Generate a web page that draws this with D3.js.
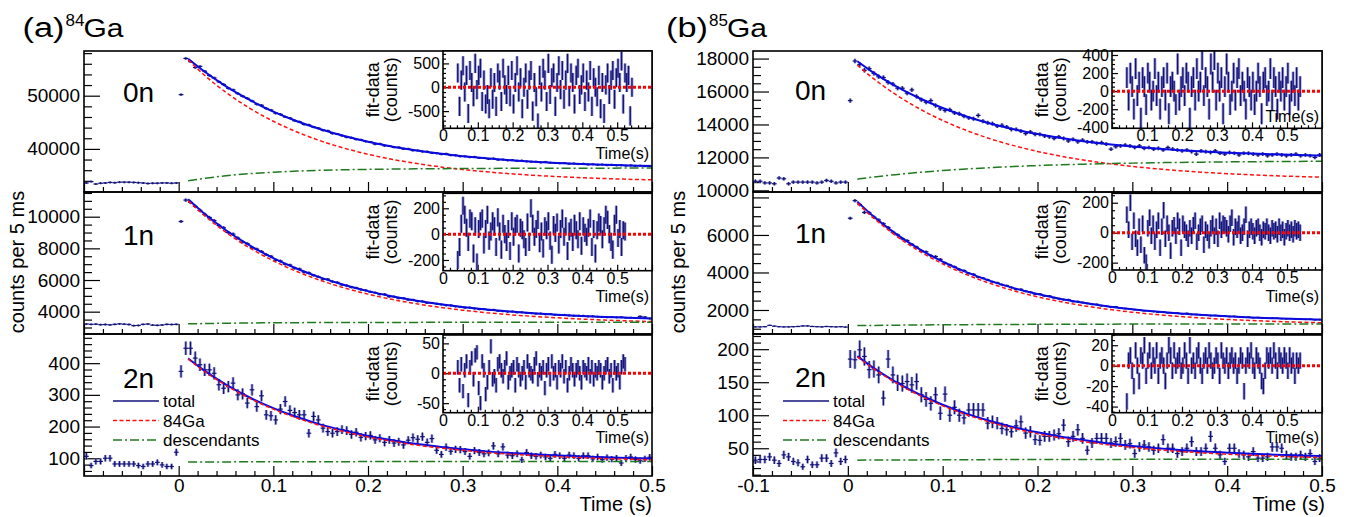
<!DOCTYPE html>
<html>
<head>
<meta charset="utf-8">
<title>84Ga / 85Ga decay curves</title>
<script src="https://cdn.jsdelivr.net/npm/d3@7/dist/d3.min.js"></script>
<style>
  html, body { margin: 0; padding: 0; background: #ffffff; }
  svg { display: block; }
  text { font-family: "Liberation Sans", Arial, Helvetica, sans-serif; fill: #000; }
</style>
</head>
<body>
<svg id="chart" width="1357" height="517" viewBox="0 0 1357 517"></svg>
<script>
// ---------- binning ----------
const binWidth = 0.005;        // 5 ms bins
const bgFirstBin = -0.0975;    // first bin centre before implantation
const decayFirstBin = 0.0025;  // first bin centre after implantation
const residFirstBin = 0.0425;  // first bin centre in the residual panels

// ---------- tick labels ----------
const timeLabelsA = [0, 0.1, 0.2, 0.3, 0.4, 0.5];
const timeLabelsB = [-0.1, 0, 0.1, 0.2, 0.3, 0.4, 0.5];
const residTimeLabels = [0, 0.1, 0.2, 0.3, 0.4, 0.5];
const residTimeLabelsNoZero = [0.1, 0.2, 0.3, 0.4, 0.5];

const ga84YLabels0n = [40000, 50000];
const ga84YLabels1n = [4000, 6000, 8000, 10000];
const ga84YLabels2n = [100, 200, 300, 400];
const ga85YLabels0n = [10000, 12000, 14000, 16000, 18000];
const ga85YLabels1n = [2000, 4000, 6000];
const ga85YLabels2n = [50, 100, 150, 200];

const ga84ResidLabels0n = [-500, 0, 500];
const ga84ResidLabels1n = [-200, 0, 200];
const ga84ResidLabels2n = [-50, 0, 50];
const ga85ResidLabels0n = [-400, -200, 0, 200, 400];
const ga85ResidLabels1n = [-200, 0, 200];
const ga85ResidLabels2n = [-40, -20, 0, 20];

// ---------- fit curves (sampled) ----------
const fitTimes = [0.01, 0.025, 0.05, 0.075, 0.1, 0.125, 0.15, 0.175, 0.2, 0.225, 0.25,
                  0.275, 0.3, 0.325, 0.35, 0.375, 0.4, 0.425, 0.45, 0.475, 0.5];

const ga84Total0n = [56933, 54815, 51765, 49193, 47013, 45203, 43685, 42409, 41345, 40458, 39737,
                     39129, 38636, 38222, 37883, 37599, 37367, 37173, 37015, 36881, 36771];
const ga84Parent0n = [56733, 54215, 50615, 47643, 45193, 43173, 41505, 40129, 38995, 38058, 37287,
                      36649, 36126, 35692, 35333, 35039, 34797, 34595, 34430, 34293, 34181];
const ga84Desc0n = [34000, 34400, 34950, 35350, 35620, 35830, 35980, 36080, 36150, 36200, 36250,
                    36280, 36310, 36330, 36350, 36360, 36370, 36378, 36385, 36388, 36390];

const ga84Total1n = [11100, 10301, 9147, 8185, 7382, 6711, 6153, 5686, 5298, 4973, 4704,
                     4480, 4293, 4136, 4007, 3898, 3809, 3734, 3671, 3619, 3576];
const ga84Parent1n = [11000, 10184, 9007, 8028, 7214, 6534, 5970, 5499, 5108, 4781, 4510,
                      4284, 4096, 3939, 3809, 3700, 3610, 3535, 3471, 3419, 3376];
const ga84Desc1n = [3230, 3247, 3270, 3287, 3298, 3307, 3313, 3317, 3320, 3322, 3324,
                    3326, 3327, 3327, 3328, 3328, 3329, 3329, 3330, 3330, 3330];

const ga84Total2n = [415, 381.2, 332.5, 291.7, 258, 230.1, 206.2, 187.3, 170.4, 157.5, 145.6,
                     136.6, 128.7, 121.7, 116.8, 112.8, 108.9, 105.9, 103, 101, 99];
const ga84Parent2n = [413, 379, 330, 289, 255, 227, 203, 184, 167, 154, 142,
                      133, 125, 118, 113, 109, 105, 102, 99, 97, 95];
const ga84Desc2n = [88, 88.2, 88.5, 88.7, 89, 89.1, 89.2, 89.3, 89.4, 89.5, 89.6,
                    89.6, 89.7, 89.7, 89.8, 89.8, 89.9, 89.9, 90, 90, 90];

const ga85Total0n = [17834, 17223, 16342, 15608, 14997, 14488, 14064, 13712, 13417, 13172, 12967,
                     12798, 12656, 12539, 12439, 12358, 12290, 12233, 12186, 12146, 12114];
const ga85Parent0n = [17603, 16880, 15838, 14968, 14243, 13638, 13134, 12714, 12363, 12070, 11826,
                      11623, 11453, 11312, 11193, 11095, 11013, 10944, 10887, 10839, 10800];
const ga85Desc0n = [10681, 10793, 10954, 11090, 11204, 11300, 11380, 11448, 11504, 11552, 11591,
                    11625, 11653, 11677, 11696, 11713, 11727, 11739, 11749, 11757, 11764];

const ga85Total1n = [7777, 7081, 6086, 5261, 4580, 4017, 3552, 3167, 2848, 2585, 2369,
                     2189, 2040, 1917, 1814, 1731, 1661, 1604, 1557, 1518, 1485];
const ga85Parent1n = [7700, 6995, 5986, 5150, 4460, 3889, 3417, 3026, 2703, 2436, 2216,
                      2033, 1882, 1757, 1653, 1568, 1497, 1439, 1391, 1351, 1318];
const ga85Desc1n = [1167, 1176, 1190, 1201, 1210, 1218, 1225, 1231, 1235, 1239, 1243,
                    1246, 1248, 1250, 1251, 1253, 1254, 1255, 1256, 1257, 1257];

const ga85Total2n = [189.5, 173.7, 151.0, 131.8, 115.9, 102.5, 91.3, 81.9, 74.1, 67.4, 62.0,
                     57.3, 53.5, 50.2, 47.4, 45.1, 43.3, 41.7, 40.3, 39.2, 38.2];
const ga85Parent2n = [188.5, 172.6, 149.7, 130.4, 114.3, 100.8, 89.5, 80.0, 72.1, 65.4, 59.9,
                      55.2, 51.3, 48.0, 45.2, 42.9, 41.0, 39.4, 38.0, 36.9, 35.9];
const ga85Desc2n = [32.0, 32.1, 32.3, 32.4, 32.6, 32.7, 32.8, 32.9, 33.0, 33.0, 33.1,
                    33.1, 33.2, 33.2, 33.2, 33.2, 33.3, 33.3, 33.3, 33.3, 33.3];

// ---------- counts per 5 ms bin ----------
const ga84Pre0n = [33600, 33850, 33400, 33550, 33600, 33700, 33650, 33750, 33750, 33750,
                   33700, 33650, 33600, 33500, 33550, 33550, 33600, 33600, 33550, 33600];
const ga84Post0n = [50200, 57000, 56400, 55300, 55500, 54600, 53800, 53350, 52600, 52100,
  51400, 51100, 50400, 49900, 49500, 49000, 48400, 48200, 47600, 47300,
  46700, 46500, 46000, 45800, 45300, 45100, 44600, 44500, 44100, 43900,
  43500, 43400, 42900, 42800, 42500, 42200, 42100, 41800, 41700, 41400,
  41300, 40900, 40950, 40600, 40550, 40300, 40300, 40000, 40000, 39700,
  39700, 39500, 39500, 39250, 39200, 39000, 39100, 38800, 38800, 38600,
  38600, 38450, 38500, 38300, 38300, 38100, 38200, 37950, 38000, 37850,
  37900, 37750, 37800, 37650, 37600, 37600, 37450, 37550, 37400, 37350,
  37300, 37350, 37200, 37250, 37150, 37200, 37050, 37100, 37000, 37050,
  36950, 37000, 36900, 36950, 36850, 36900, 36800, 36850, 36750, 36800];

const ga84Pre1n = [3220, 3200, 3210, 3180, 3190, 3170, 3200, 3230, 3210, 3190,
                   3120, 3130, 3200, 3220, 3150, 3140, 3160, 3200, 3190, 3200];
const ga84Post1n = [9700, 11050, 10900, 10650, 10400, 10150, 9950, 9750, 9450, 9300,
  9000, 8900, 8650, 8400, 8300, 8050, 7950, 7800, 7600, 7500,
  7250, 7200, 7000, 6950, 6750, 6700, 6500, 6450, 6300, 6200,
  6050, 6050, 5900, 5850, 5700, 5650, 5550, 5500, 5400, 5350,
  5250, 5200, 5100, 5100, 4950, 4950, 4850, 4850, 4750, 4750,
  4650, 4650, 4550, 4550, 4500, 4450, 4400, 4400, 4330, 4300,
  4250, 4260, 4200, 4150, 4170, 4100, 4120, 4050, 4030, 4000,
  4010, 3950, 3960, 3920, 3900, 3870, 3880, 3830, 3850, 3800,
  3790, 3800, 3760, 3740, 3750, 3740, 3700, 3710, 3680, 3670,
  3650, 3660, 3640, 3650, 3610, 3620, 3600, 3700, 3660, 3570];

const ga84Pre2n = [106, 77, 90, 90, 100, 100, 82, 82, 82, 82,
                   82, 77, 74, 82, 82, 87, 79, 74, 74, 119];
const ga84Post2n = [374, 447, 447, 416, 395, 379, 379, 368, 332, 321,
  326, 337, 300, 303, 274, 316, 263, 297, 237, 234,
  221, 255, 279, 251, 244, 237, 237, 179, 232, 221,
  195, 184, 179, 184, 190, 187, 175, 182, 166, 170,
  172, 158, 163, 150, 158, 148, 152, 142, 157, 165,
  160, 168, 150, 162, 125, 112, 135, 122, 128, 127,
  121, 106, 124, 118, 114, 117, 139, 114, 136, 110,
  108, 114, 95, 118, 108, 106, 110, 104, 100, 112,
  108, 100, 110, 108, 100, 108, 108, 98, 104, 96,
  102, 97, 100, 85, 100, 104, 96, 92, 98, 103];

const ga85Pre0n = [10550, 10550, 10450, 10450, 10400, 10750, 10700, 10400, 10500, 10500,
                   10500, 10500, 10500, 10450, 10500, 10600, 10550, 10450, 10500, 10500];
const ga85Post0n = [15450, 17850, 17640, 17290, 17390, 17100, 16900, 16850, 16550, 16450,
  16200, 16200, 15900, 16100, 15700, 15500, 15350, 15450, 15150, 14950,
  14850, 14900, 14700, 14650, 14500, 14400, 14350, 14550, 14200, 14100,
  14050, 13900, 13950, 13850, 13700, 13700, 13600, 13450, 13550, 13400,
  13400, 13300, 13250, 13150, 13250, 13150, 13000, 13100, 12950, 13050,
  12950, 12950, 12850, 12900, 12800, 12500, 12650, 12700, 12750, 12700,
  12600, 12700, 12550, 12600, 12500, 12550, 12450, 12600, 12500, 12450,
  12400, 12450, 12350, 12200, 12400, 12350, 12300, 12400, 12250, 12200,
  12300, 12250, 12150, 12250, 12250, 12200, 12150, 12200, 12100, 12150,
  12200, 12150, 12100, 12150, 12200, 12100, 12150, 12100, 12000, 12150];

const ga85Pre1n = [1100, 1100, 1110, 1180, 1140, 1110, 1100, 1100, 1110, 1120,
                   1150, 1150, 1120, 1110, 1100, 1120, 1110, 1100, 1110, 1090];
const ga85Post1n = [6890, 7830, 7620, 7200, 7180, 6950, 6800, 6600, 6400, 6150,
  6000, 5800, 5700, 5500, 5350, 5150, 5100, 4900, 4850, 4700,
  4500, 4400, 4300, 4150, 4100, 3950, 3900, 3750, 3700, 3600,
  3500, 3450, 3350, 3300, 3200, 3100, 3100, 3000, 2950, 2850,
  2850, 2750, 2750, 2650, 2600, 2550, 2550, 2450, 2450, 2400,
  2350, 2300, 2300, 2230, 2200, 2150, 2170, 2100, 2080, 2050,
  2020, 2000, 1960, 1960, 1920, 1880, 1900, 1850, 1830, 1840,
  1800, 1820, 1760, 1760, 1740, 1720, 1700, 1710, 1670, 1680,
  1650, 1660, 1620, 1610, 1620, 1590, 1600, 1570, 1560, 1570,
  1560, 1540, 1530, 1540, 1510, 1510, 1500, 1510, 1480, 1490];

const ga85Pre2n = [32, 33, 33, 37, 32, 27, 40, 37, 30, 28,
                   22, 33, 25, 25, 35, 35, 27, 43, 30, 33];
const ga85Post2n = [185, 184, 199, 189, 169, 170, 161, 126, 185, 161,
  149, 148, 151, 146, 151, 131, 124, 118, 131, 103,
  132, 100, 112, 100, 96, 108, 108, 108, 108, 88,
  90, 88, 80, 78, 75, 84, 90, 73, 75, 63,
  62, 68, 68, 70, 72, 85, 60, 68, 78, 65,
  47, 58, 65, 65, 65, 58, 60, 65, 55, 57,
  42, 52, 55, 52, 47, 50, 63, 50, 50, 42,
  45, 50, 60, 45, 45, 50, 68, 50, 40, 30,
  50, 50, 42, 40, 37, 45, 35, 35, 37, 52,
  52, 50, 40, 37, 37, 40, 37, 42, 30, 35];

// ---------- fit - data residuals ----------
const ga84Resid0n = [300, -400, 150, 450, -100, 250, -550, 350, 100, -200, 500, -50, 250, 400, -300,
  150, -350, -150, -450, 200, -250, 100, -400, 300, 150, -300, 400, 50, -150, 250, -200, 350, -350,
  100, 450, -100, 200, -450, 0, 300, -250, 150, 350, -500, 100, -200, -750, 250, -100, 400, 150,
  -300, 500, -150, 200, 300, -400, 100, 450, -50, 350, -250, 150, 500, -200, 300, 100, -350, 250,
  400, -150, 50, 300, -300, 150, -100, 350, -400, 200, 0, -200, 250, -450, 100, -550, 50, 300,
  -150, 150, 350, -250, 200, 400, 100, 550, -350, 300, 100, 250, -600, 0];
const ga84ResidErr0n = 200;

const ga84Resid1n = [-200, -100, 80, 220, 150, 50, -60, 120, 100, -150, 60, -220, 40, 100, 120,
  -80, 40, 150, -50, 20, 100, 60, -100, 130, 20, -120, 80, 0, -60, 40, -130, 100, -20, 60, 80,
  -150, 50, 30, -40, -100, 90, -60, 200, 80, -20, 40, 110, -70, 20, -110, 60, 30, 100, -50, -160,
  70, 10, 90, -80, 40, 120, -20, 60, -130, 20, 50, -60, 80, 30, -40, 100, -90, 60, 10, -20, 50,
  120, -100, 40, -150, 30, 90, 70, -40, 60, 150, 110, 0, -60, -120, 80, 150, -30, 40, -100, 30, 20];
const ga84ResidErr1n = 70;

const ga84Resid2n = [10, -20, 15, -30, 5, 20, -45, 10, 25, -10, 30, 35, -25, -50, 20, 5, -35, -15,
  10, 45, -10, -5, -20, 15, 20, 5, -5, 10, 25, -15, 0, 5, 10, -20, 15, 5, -10, 0, 10, -15, 20, 5,
  0, -5, 15, 25, -10, 5, 0, 10, -25, 5, 15, -10, 20, 0, 5, -15, 10, 5, 20, -5, 10, -20, 0, 15, 5,
  -10, 5, 10, 0, -15, 10, 5, 0, 15, -5, 10, -10, 5, 0, 10, 5, -15, 0, 10, 15, -5, 5, -20, 10, 0,
  5, -15, 10, 20, 15];
const ga84ResidErr2n = 12;

const ga85Resid0n = [150, -100, 200, 50, -200, 250, -50, 100, -300, 150, 50, -150, 200, 100, -100,
  0, 250, -50, 100, -200, 50, 150, -100, 200, -250, 50, 100, 0, -150, 300, -100, 50, 150, -50, 200,
  100, -300, 50, 150, -100, 250, 0, 100, 350, -50, 150, 50, -200, 300, 100, 350, -100, 200, 0, 150,
  -250, 50, 300, 100, -150, 0, 200, -100, 150, 250, -50, 100, 0, -200, 150, 50, -100, 100, -150, 0,
  200, 50, -250, 100, 150, -50, 0, 250, -100, 150, 50, -200, 100, 0, 150, -100, 50, 200, -150, 0,
  100, -50, 150, -100, 50];
const ga85ResidErr0n = 115;

const ga85Resid1n = [120, 20, 200, -60, 80, -40, -100, 40, -80, 60, -150, -200, 30, 100, -20, 60,
  -60, 20, 80, -100, 40, 150, -40, 60, 0, -120, 30, 50, -20, 80, 40, -100, 60, 20, 0, -40, 30, -20,
  50, 80, -60, 0, 40, 60, -80, 20, 0, -50, 30, 60, -20, 40, -40, 80, 20, 60, 50, 30, -10, 60, 100,
  -30, 40, 20, 60, -20, 0, 40, 120, -40, 20, 40, 10, -20, 30, 40, 0, -30, 20, 10, 40, 0, -20, 30,
  10, 20, -10, 40, 0, 20, -30, 10, 30, 0, 20, -10, 30, 10, 20, 0];
const ga85ResidErr1n = 55;

const ga85Resid2n = [-35, 5, 10, -5, -20, 15, 0, -15, 10, 5, 20, -10, 5, 15, -5, 10, 0, 15, -10,
  5, 10, 0, -15, 5, 20, 10, -5, 15, 0, 5, 10, -5, 0, 15, 5, -10, 20, 0, 5, -5, 10, 15, 0, -10, 5,
  10, 0, 15, 5, -5, 0, 10, 5, -10, 15, 5, 0, 10, -5, 5, 10, 0, 5, -10, 0, 10, 5, -25, 0, 10, 5,
  15, 0, -5, 10, 5, 0, -15, -20, -5, 10, 5, 10, 0, 15, 5, -5, 10, 5, 0, 10, 5, -5, 10, 0, 5, -10,
  5, 0, 5];
const ga85ResidErr2n = 8;

// ---------- styling ----------
const NAVY = "#12127a";
const HALO = "#8686c2";
const TOTAL_COLOR = "#0a0ae0";
const PARENT_COLOR = "#ff1010";
const DESC_COLOR = "#1f7a1f";

const svg = d3.select("#chart");
const timeDomain = [-0.1, 0.5];
const residTimeDomain = [0, 0.6];

function stepValues(domain, step) {
  const lo = Math.ceil(domain[0] / step - 1e-6);
  const hi = Math.floor(domain[1] / step + 1e-6);
  return d3.range(lo, hi + 1).map(i => +(i * step).toFixed(6));
}

function styleAxis(sel, fontSize) {
  sel.select(".domain").remove();
  sel.selectAll(".tick line").attr("stroke", "#000").attr("stroke-width", 1.2);
  sel.selectAll(".tick text")
    .attr("font-family", '"Liberation Sans", Arial, Helvetica, sans-serif')
    .attr("font-size", fontSize)
    .attr("fill", "#000");
  sel.attr("font-size", null).attr("font-family", null);
}

let clipCount = 0;
function clipRect(left, top, right, bottom) {
  const id = "clip" + (clipCount++);
  svg.append("clipPath").attr("id", id).append("rect")
    .attr("x", left).attr("y", top).attr("width", right - left).attr("height", bottom - top);
  return "url(#" + id + ")";
}

function fitPoints(values) {
  return fitTimes.map((t, i) => [t, values[i]]);
}

function drawPanel(p, grp) {
  const x = d3.scaleLinear().domain(timeDomain).range([grp.left, grp.right]);
  const y = d3.scaleLinear().domain(p.yDomain).range([p.bottom, p.top]);
  const g = svg.append("g");

  // y axis: minor then major ticks pointing inward
  const majors = stepValues(p.yDomain, p.major);
  const minors = stepValues(p.yDomain, p.minor).filter(v => !majors.some(m => Math.abs(m - v) < 1e-6));
  g.append("g").attr("transform", `translate(${grp.left},0)`)
    .call(d3.axisLeft(y).tickValues(minors).tickSizeInner(-8).tickSizeOuter(0).tickFormat(""))
    .call(s => styleAxis(s, 19));
  g.append("g").attr("transform", `translate(${grp.left},0)`)
    .call(d3.axisLeft(y).tickValues(majors).tickSizeInner(-16).tickSizeOuter(0).tickPadding(4)
      .tickFormat(d => p.yLabels.includes(d) ? String(d) : ""))
    .call(s => styleAxis(s, 19));

  // time axis along the bottom of each pad
  const tMajors = stepValues(timeDomain, 0.1);
  const tMinors = stepValues(timeDomain, 0.02).filter(v => !tMajors.some(m => Math.abs(m - v) < 1e-6));
  g.append("g").attr("transform", `translate(0,${p.bottom})`)
    .call(d3.axisBottom(x).tickValues(tMinors).tickSizeInner(-5).tickSizeOuter(0).tickFormat(""))
    .call(s => styleAxis(s, 19));
  g.append("g").attr("transform", `translate(0,${p.bottom})`)
    .call(d3.axisBottom(x).tickValues(tMajors).tickSizeInner(-10).tickSizeOuter(0).tickPadding(2)
      .tickFormat(d => (p.showTime && grp.timeLabels.some(l => Math.abs(l - d) < 1e-6)) ? String(d) : ""))
    .call(s => styleAxis(s, 19));

  // histogram points with Poisson error bars
  const clip = clipRect(grp.left, p.top, grp.right, p.bottom);
  const body = g.append("g").attr("clip-path", clip);
  const pts = p.pre.map((v, i) => ({ t: bgFirstBin + i * binWidth, v }))
    .concat(p.post.map((v, i) => ({ t: decayFirstBin + i * binWidth, v })));
  body.append("g").selectAll("line").data(pts).join("line")
    .attr("x1", d => x(d.t)).attr("x2", d => x(d.t))
    .attr("y1", d => y(d.v - Math.sqrt(d.v))).attr("y2", d => y(d.v + Math.sqrt(d.v)))
    .attr("stroke", HALO).attr("stroke-width", 2.8).attr("stroke-opacity", 0.75);
  body.append("g").selectAll("line").data(pts).join("line")
    .attr("x1", d => x(d.t)).attr("x2", d => x(d.t))
    .attr("y1", d => y(d.v - Math.sqrt(d.v))).attr("y2", d => y(d.v + Math.sqrt(d.v)))
    .attr("stroke", NAVY).attr("stroke-width", 1.2);
  body.append("g").selectAll("line").data(pts).join("line")
    .attr("x1", d => x(d.t - binWidth / 2)).attr("x2", d => x(d.t + binWidth / 2))
    .attr("y1", d => y(d.v)).attr("y2", d => y(d.v))
    .attr("stroke", NAVY).attr("stroke-width", 1.2);

  // fit components
  const line = d3.line().x(d => x(d[0])).y(d => y(d[1])).curve(d3.curveMonotoneX);
  body.append("path").attr("d", line(fitPoints(p.total)))
    .attr("fill", "none").attr("stroke", TOTAL_COLOR).attr("stroke-width", 2);
  body.append("path").attr("d", line(fitPoints(p.parent)))
    .attr("fill", "none").attr("stroke", PARENT_COLOR).attr("stroke-width", 1.5)
    .attr("stroke-dasharray", "4,2.5");
  body.append("path").attr("d", line(fitPoints(p.desc)))
    .attr("fill", "none").attr("stroke", DESC_COLOR).attr("stroke-width", 1.5)
    .attr("stroke-dasharray", "9,3,2,3");

  // frame
  g.append("rect").attr("x", grp.left).attr("y", p.top)
    .attr("width", grp.right - grp.left).attr("height", p.bottom - p.top)
    .attr("fill", "none").attr("stroke", "#000").attr("stroke-width", 1.6);

  // neutron multiplicity tag
  g.append("text").attr("x", grp.tagX).attr("y", p.tagY).attr("font-size", 28).text(p.tag);

  if (p.inset) drawInset(p.inset, grp);
  if (p.legend) drawLegend(grp.legendX);
}

function drawInset(ins, grp) {
  const left = grp.insetLeft, right = grp.right;
  const x = d3.scaleLinear().domain(residTimeDomain).range([left, right]);
  const y = d3.scaleLinear().domain(ins.yDomain).range([ins.bottom, ins.top]);
  const g = svg.append("g");

  g.append("rect").attr("x", left).attr("y", ins.top)
    .attr("width", right - left).attr("height", ins.bottom - ins.top).attr("fill", "#fff");

  const majors = stepValues(ins.yDomain, ins.major);
  const minors = stepValues(ins.yDomain, ins.minor).filter(v => !majors.some(m => Math.abs(m - v) < 1e-6));
  g.append("g").attr("transform", `translate(${left},0)`)
    .call(d3.axisLeft(y).tickValues(minors).tickSizeInner(-3).tickSizeOuter(0).tickFormat(""))
    .call(s => styleAxis(s, 16));
  g.append("g").attr("transform", `translate(${left},0)`)
    .call(d3.axisLeft(y).tickValues(majors).tickSizeInner(-6).tickSizeOuter(0).tickPadding(3)
      .tickFormat(d => ins.yLabels.includes(d) ? String(d) : ""))
    .call(s => styleAxis(s, 16));

  const tMajors = stepValues(residTimeDomain, 0.1);
  const tMinors = stepValues(residTimeDomain, 0.02).filter(v => !tMajors.some(m => Math.abs(m - v) < 1e-6));
  g.append("g").attr("transform", `translate(0,${ins.bottom})`)
    .call(d3.axisBottom(x).tickValues(tMinors).tickSizeInner(-3).tickSizeOuter(0).tickFormat(""))
    .call(s => styleAxis(s, 16));
  g.append("g").attr("transform", `translate(0,${ins.bottom})`)
    .call(d3.axisBottom(x).tickValues(tMajors).tickSizeInner(-6).tickSizeOuter(0).tickPadding(1.5)
      .tickFormat(d => ins.xLabels.some(l => Math.abs(l - d) < 1e-6) ? String(d) : ""))
    .call(s => styleAxis(s, 16));

  const body = g.append("g").attr("clip-path", clipRect(left, ins.top, right, ins.bottom));
  const pts = ins.resid.map((r, i) => ({ t: residFirstBin + i * binWidth, r }));
  body.append("g").selectAll("line").data(pts).join("line")
    .attr("x1", d => x(d.t)).attr("x2", d => x(d.t))
    .attr("y1", d => y(d.r - ins.err)).attr("y2", d => y(d.r + ins.err))
    .attr("stroke", HALO).attr("stroke-width", 3).attr("stroke-opacity", 0.75);
  body.append("g").selectAll("line").data(pts).join("line")
    .attr("x1", d => x(d.t)).attr("x2", d => x(d.t))
    .attr("y1", d => y(d.r - ins.err)).attr("y2", d => y(d.r + ins.err))
    .attr("stroke", NAVY).attr("stroke-width", 1.4);
  body.append("line").attr("x1", left).attr("x2", right).attr("y1", y(0)).attr("y2", y(0))
    .attr("stroke", "#ff0000").attr("stroke-width", 3).attr("stroke-dasharray", "3,2");

  g.append("rect").attr("x", left).attr("y", ins.top)
    .attr("width", right - left).attr("height", ins.bottom - ins.top)
    .attr("fill", "none").attr("stroke", "#000").attr("stroke-width", 1.6);

  const cy = (ins.top + ins.bottom) / 2;
  g.append("text").attr("transform", `translate(${left - 64.5},${cy}) rotate(-90)`)
    .attr("text-anchor", "middle").attr("font-size", 18).text("fit-data");
  g.append("text").attr("transform", `translate(${left - 46},${cy}) rotate(-90)`)
    .attr("text-anchor", "middle").attr("font-size", 18).text("(counts)");
  g.append("text").attr("x", right - 3).attr("y", ins.titleY)
    .attr("text-anchor", "end").attr("font-size", 16).text("Time(s)");
}

function drawLegend(lx) {
  const g = svg.append("g");
  const rows = [
    { label: "total", color: NAVY, dash: null, w: 1.6 },
    { label: "84Ga", color: PARENT_COLOR, dash: "4,2.5", w: 1.5 },
    { label: "descendants", color: DESC_COLOR, dash: "9,3,2,3", w: 1.5 }
  ];
  rows.forEach((r, i) => {
    const yy = 401 + i * 19.5;
    g.append("line").attr("x1", lx).attr("x2", lx + 46).attr("y1", yy).attr("y2", yy)
      .attr("stroke", r.color).attr("stroke-width", r.w).attr("stroke-dasharray", r.dash);
    g.append("text").attr("x", lx + 50).attr("y", yy + 6).attr("font-size", 17).text(r.label);
  });
}

function drawGroup(grp, panels) {
  panels.forEach(p => drawPanel(p, grp));
  // group title: (a)^84Ga
  const tx = grp.titleX;
  svg.append("text").attr("x", tx).attr("y", 37).attr("font-size", 27)
    .attr("textLength", 42).attr("lengthAdjust", "spacingAndGlyphs").text(grp.letter);
  svg.append("text").attr("x", tx + 43).attr("y", 25.5).attr("font-size", 17).text(grp.mass);
  svg.append("text").attr("x", tx + 61).attr("y", 37).attr("font-size", 26)
    .attr("textLength", 40).attr("lengthAdjust", "spacingAndGlyphs").text("Ga");
  // axis titles
  svg.append("text").attr("transform", `translate(${grp.yTitleX},262) rotate(-90)`)
    .attr("text-anchor", "middle").attr("font-size", 20).text("counts per 5 ms");
  svg.append("text").attr("x", grp.xTitleEnd).attr("y", 511)
    .attr("text-anchor", "end").attr("font-size", 20).text("Time (s)");
}

const ga84Group = {
  left: 84, right: 652, insetLeft: 443, tagX: 123, legendX: 113, titleX: 22.5,
  yTitleX: 23.5, xTitleEnd: 652, letter: "(a)", mass: "84", timeLabels: timeLabelsA
};
const ga85Group = {
  left: 753, right: 1322, insetLeft: 1112, tagX: 795, legendX: 783, titleX: 666,
  yTitleX: 684.5, xTitleEnd: 1325, letter: "(b)", mass: "85", timeLabels: timeLabelsB
};

drawGroup(ga84Group, [
  { tag: "0n", top: 51, bottom: 192, tagY: 102, yDomain: [31900, 58400], major: 10000, minor: 2000,
    yLabels: ga84YLabels0n, pre: ga84Pre0n, post: ga84Post0n,
    total: ga84Total0n, parent: ga84Parent0n, desc: ga84Desc0n,
    inset: { top: 51, bottom: 128.3, yDomain: [-860, 760], major: 500, minor: 100,
             yLabels: ga84ResidLabels0n, xLabels: residTimeLabels, titleY: 159,
             resid: ga84Resid0n, err: ga84ResidErr0n } },
  { tag: "1n", top: 192, bottom: 334, tagY: 245, yDomain: [2590, 11560], major: 2000, minor: 500,
    yLabels: ga84YLabels1n, pre: ga84Pre1n, post: ga84Post1n,
    total: ga84Total1n, parent: ga84Parent1n, desc: ga84Desc1n,
    inset: { top: 193.3, bottom: 270.7, yDomain: [-283, 316], major: 200, minor: 50,
             yLabels: ga84ResidLabels1n, xLabels: residTimeLabels, titleY: 301.5,
             resid: ga84Resid1n, err: ga84ResidErr1n } },
  { tag: "2n", top: 334, bottom: 476, tagY: 388, yDomain: [44, 492], major: 100, minor: 20,
    yLabels: ga84YLabels2n, pre: ga84Pre2n, post: ga84Post2n, showTime: true, legend: true,
    total: ga84Total2n, parent: ga84Parent2n, desc: ga84Desc2n,
    inset: { top: 335, bottom: 412.7, yDomain: [-66, 64], major: 50, minor: 10,
             yLabels: ga84ResidLabels2n, xLabels: residTimeLabels, titleY: 443,
             resid: ga84Resid2n, err: ga84ResidErr2n } }
]);

drawGroup(ga85Group, [
  { tag: "0n", top: 51, bottom: 192, tagY: 100, yDomain: [9900, 18460], major: 2000, minor: 500,
    yLabels: ga85YLabels0n, pre: ga85Pre0n, post: ga85Post0n,
    total: ga85Total0n, parent: ga85Parent0n, desc: ga85Desc0n,
    inset: { top: 51, bottom: 128.3, yDomain: [-411, 444], major: 200, minor: 50,
             yLabels: ga85ResidLabels0n, xLabels: residTimeLabelsNoZero, titleY: 122,
             resid: ga85Resid0n, err: ga85ResidErr0n } },
  { tag: "1n", top: 192, bottom: 334, tagY: 243, yDomain: [720, 8290], major: 2000, minor: 500,
    yLabels: ga85YLabels1n, pre: ga85Pre1n, post: ga85Post1n,
    total: ga85Total1n, parent: ga85Parent1n, desc: ga85Desc1n,
    inset: { top: 193.3, bottom: 270, yDomain: [-249, 263], major: 200, minor: 50,
             yLabels: ga85ResidLabels1n, xLabels: residTimeLabels, titleY: 301.5,
             resid: ga85Resid1n, err: ga85ResidErr1n } },
  { tag: "2n", top: 334, bottom: 476, tagY: 387, yDomain: [8, 223], major: 50, minor: 10,
    yLabels: ga85YLabels2n, pre: ga85Pre2n, post: ga85Post2n, showTime: true, legend: true,
    total: ga85Total2n, parent: ga85Parent2n, desc: ga85Desc2n,
    inset: { top: 335, bottom: 412.7, yDomain: [-46, 30], major: 20, minor: 5,
             yLabels: ga85ResidLabels2n, xLabels: residTimeLabels, titleY: 443,
             resid: ga85Resid2n, err: ga85ResidErr2n } }
]);
</script>
</body>
</html>
